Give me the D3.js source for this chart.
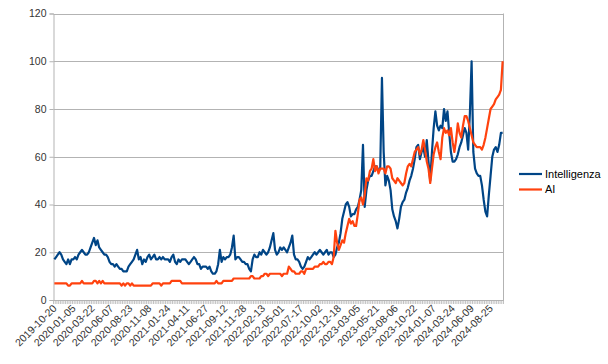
<!DOCTYPE html>
<html><head><meta charset="utf-8">
<script src="https://cdn.jsdelivr.net/npm/d3@7"></script>
<style>body{margin:0;background:#fff}svg{display:block;font-family:"Liberation Sans",Arial,sans-serif}</style>
</head><body><svg id="c" width="608" height="364"></svg>
<script>
const startDate = "2019-10-20";
const weekCount = 261;
const tickLabels = ["2019-10-20","2020-01-05","2020-03-22","2020-06-07","2020-08-23","2020-11-08","2021-01-24","2021-04-11","2021-06-27","2021-09-12","2021-11-28","2022-02-13","2022-05-01","2022-07-17","2022-10-02","2022-12-18","2023-03-05","2023-05-21","2023-08-06","2023-10-22","2024-01-07","2024-03-24","2024-06-09","2024-08-25"];
const yTicks = [0,20,40,60,80,100,120];
const seriesNames = ["Intelligenza","AI"];
const seriesColors = ["#004586","#ff420e"];
const intelligenza = [
17,18,19,20,19,17,16,15,17,15,
17,17,18,17,19,20,21,20,19,19,
20,22,24,26,23,25,22,21,20,19,
19,18,16,15,15,14,15,14,13,13,
12,12,12,14,15,16,17,19,21,17,
18,15,17,16,18,19,17,18,19,17,
17,18,17,18,17,17,17,16,18,19,
16,15,17,16,17,17,17,16,15,16,
17,18,17,15,15,13,14,14,14,13,
14,12,11,11,12,15,21,16,18,17,
18,18,19,22,27,17,18,18,17,16,
16,15,15,13,12,17,19,18,18,20,
19,21,20,19,20,22,25,28,21,19,
20,22,21,22,21,20,22,24,27,19,
17,17,16,14,13,14,16,18,17,18,
19,20,19,20,21,20,19,20,21,19,
20,20,18,19,22,24,28,34,37,40,
41,39,35,36,36,38,39,42,46,65,
39,46,50,52,52,54,56,56,54,55,
93,62,48,52,50,46,38,35,33,30,
34,39,41,42,45,47,50,52,55,59,
64,65,59,62,64,60,67,58,50,62,
72,79,73,71,73,72,80,75,79,70,
62,58,58,59,61,64,66,69,72,70,
63,78,100,62,55,53,52,52,48,42,
37,35,44,52,60,63,64,62,65,70,
70];
const ai = [
7,7,7,7,7,7,7,7,6,6,
7,7,7,7,7,7,8,7,7,7,
7,7,7,8,8,7,8,7,8,7,
7,7,7,7,7,7,7,7,7,6,
7,6,7,7,6,7,6,6,6,6,
6,6,6,6,6,6,6,7,7,7,
7,7,6,7,7,7,7,7,8,8,
8,8,8,8,7,7,7,7,7,7,
7,7,7,7,7,7,7,7,7,7,
7,7,7,7,8,7,7,7,8,8,
8,8,8,8,9,9,9,9,9,9,
9,9,9,9,10,10,9,9,9,9,
10,10,11,11,10,11,11,11,11,11,
11,11,10,11,11,11,14,13,12,12,
11,11,11,12,12,11,13,13,13,13,
13,14,14,14,15,15,16,15,15,16,
16,15,18,29,24,21,23,25,24,28,
31,34,32,33,31,31,36,42,43,40,
44,51,50,54,55,59,54,56,53,55,
55,55,53,56,56,55,51,50,49,51,
50,49,48,49,53,56,57,56,59,62,
63,64,61,63,67,63,58,55,49,55,
61,64,66,62,59,68,72,70,71,69,
72,66,62,67,74,70,68,73,77,77,
75,72,69,66,65,64,64,64,63,65,
68,72,76,80,81,82,84,85,86,88,
100];

const fmt = d3.utcFormat("%Y-%m-%d");
const start = d3.utcParse("%Y-%m-%d")(startDate);
const categories = d3.range(weekCount).map(i => fmt(d3.utcDay.offset(start, 7 * i)));

const svg = d3.select("#c");
const L = 53.5, R = 503.5, T = 13.5, B = 300;
const x = d3.scaleBand().domain(categories).range([L, R]).padding(0);
const y = d3.scaleLinear().domain([0, 120]).range([B, T]);
const cx = d => x(d) + x.bandwidth() / 2;
const grid = "#b3b3b3";

// gridlines
svg.append("g").selectAll("line").data(yTicks).join("line")
  .attr("x1", L).attr("x2", R).attr("y1", d => Math.round(y(d)) + 0.5).attr("y2", d => Math.round(y(d)) + 0.5)
  .attr("stroke", grid).attr("stroke-width", 1);
// right border
svg.append("line").attr("x1", R).attr("x2", R).attr("y1", y(120)).attr("y2", B).attr("stroke", grid);

// y axis
const yAxis = d3.axisLeft(y).tickValues(yTicks).tickSize(4).tickPadding(3);
const gy = svg.append("g").attr("transform", `translate(${L},0)`).call(yAxis);
gy.select(".domain").attr("stroke", grid);
gy.selectAll(".tick line").attr("stroke", grid);
gy.selectAll(".tick text").attr("fill", "#333").style("font-size", "10.5px").style("font-family", '"Liberation Sans",Arial,sans-serif');

// x axis minor ticks at category boundaries
svg.append("g").selectAll("line").data(categories.concat([null])).join("line")
  .attr("x1", d => d === null ? R : x(d)).attr("x2", d => d === null ? R : x(d))
  .attr("y1", B).attr("y2", B + 4).attr("stroke", grid).attr("stroke-width", 0.8);

const xAxis = d3.axisBottom(x).tickValues(tickLabels).tickSize(0).tickPadding(0);
const gx = svg.append("g").attr("transform", `translate(0,${B})`).call(xAxis);
gx.select(".domain").attr("stroke", grid);
gx.selectAll(".tick text")
  .attr("fill", "#333").style("font-size", "10.5px").style("font-family", '"Liberation Sans",Arial,sans-serif')
  .attr("text-anchor", "end").attr("dy", null)
  .attr("transform", "translate(3,9) rotate(-45)");

// lines
const line = d3.line().x((d, i) => cx(categories[i])).y(d => y(d));
[intelligenza, ai].forEach((s, k) => {
  svg.append("path").datum(s).attr("d", line).attr("fill", "none")
    .attr("stroke", seriesColors[k]).attr("stroke-width", 2.2).attr("stroke-linejoin", "round");
});

// legend
const lg = svg.append("g");
seriesNames.forEach((n, k) => {
  const yy = 174 + k * 15.5;
  lg.append("line").attr("x1", 519).attr("x2", 542).attr("y1", yy).attr("y2", yy)
    .attr("stroke", seriesColors[k]).attr("stroke-width", 2.2);
  lg.append("text").attr("x", 545).attr("y", yy).attr("dy", "0.35em")
    .attr("fill", "#000").style("font-size", "11px").text(n);
});
</script></body></html>
